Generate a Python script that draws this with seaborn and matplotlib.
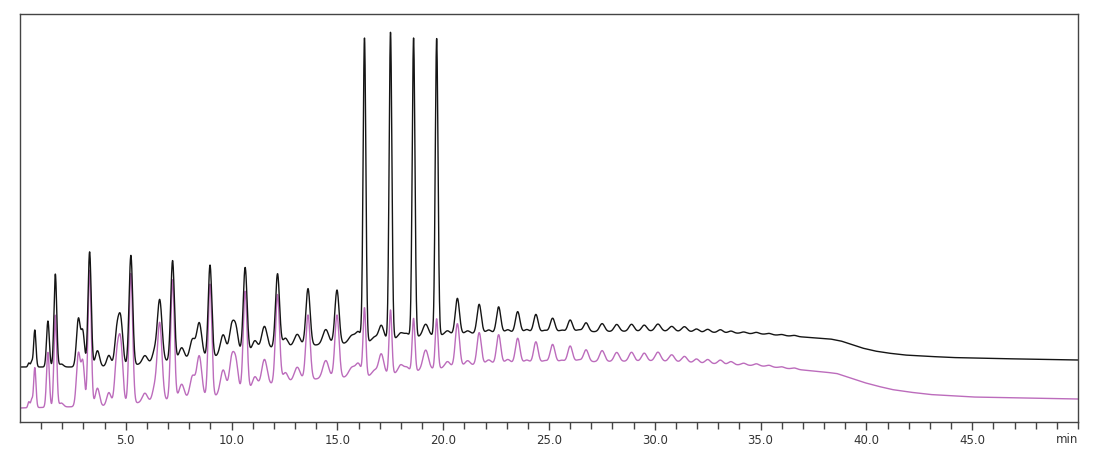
import numpy as np
import pandas as pd
import matplotlib
matplotlib.use("Agg")
import matplotlib.pyplot as plt
import seaborn as sns

# Peak table (retention time in min)
peak_times = [
    0.42, 0.55, 0.70, 1.32, 1.67, 1.95, 2.76, 2.97, 3.29, 3.66,
    4.20, 4.58, 4.76, 5.24, 5.90, 6.35, 6.60, 7.21, 7.64, 8.15,
    8.47, 8.98, 9.60, 10.00, 10.20, 10.64, 11.10, 11.55, 12.17, 12.54,
    13.10, 13.61, 14.45, 14.98, 15.70, 16.00, 16.28, 16.75, 17.07, 17.51,
    17.99, 18.27, 18.60, 19.17, 19.69, 20.20, 20.67, 21.15, 21.70, 22.15,
    22.62, 23.05, 23.52, 23.95, 24.38, 24.80, 25.17, 25.60, 26.00, 26.40,
    26.75, 27.51, 28.20, 28.90, 29.50, 30.15, 30.80, 31.40, 31.97, 32.50,
    33.10, 33.60, 34.20, 34.80, 35.40, 36.00, 36.60,
]
black_heights = [
    4, 5, 37, 46, 93, 3, 48, 34, 115, 16,
    11, 34, 44, 110, 8, 10, 62, 100, 12, 19,
    35, 92, 21, 27, 25, 85, 10, 23, 74, 9,
    12, 57, 15, 54, 8, 10, 304, 4, 15, 307,
    5, 4, 299, 12, 297, 4, 36, 3, 29, 3,
    26, 3, 21, 3, 18, 2, 14, 2, 12, 2,
    9, 8, 7, 7, 6, 7, 5, 5, 3, 3,
    3, 2, 1.5, 1.5, 1.2, 1.0, 1.0,
]
purple_heights = [
    6, 8, 40, 55, 92, 4, 53, 43, 136, 18,
    13, 46, 58, 130, 9, 12, 78, 120, 15, 22,
    42, 113, 25, 33, 30, 100, 12, 27, 89, 10,
    14, 65, 18, 63, 10, 12, 68, 5, 21, 64,
    8, 5, 53, 20, 50, 6, 43, 5, 32, 4,
    29, 4, 25, 3, 21, 2, 18, 2, 16, 2,
    12, 11, 9, 9, 8, 9, 7, 6, 4, 4,
    4, 3, 2, 2, 1.5, 1.2, 1.2,
]
peak_widths = [
    0.045, 0.045, 0.055, 0.065, 0.065, 0.10, 0.09, 0.08, 0.075, 0.10,
    0.10, 0.10, 0.10, 0.085, 0.12, 0.10, 0.11, 0.085, 0.12, 0.12,
    0.12, 0.085, 0.13, 0.11, 0.11, 0.09, 0.12, 0.13, 0.095, 0.12,
    0.14, 0.10, 0.14, 0.10, 0.16, 0.12, 0.065, 0.12, 0.12, 0.065,
    0.12, 0.12, 0.065, 0.13, 0.065, 0.12, 0.10, 0.12, 0.10, 0.12,
    0.10, 0.12, 0.105, 0.12, 0.105, 0.12, 0.11, 0.12, 0.11, 0.12,
    0.115, 0.12, 0.12, 0.12, 0.12, 0.13, 0.13, 0.13, 0.12, 0.12,
    0.12, 0.12, 0.12, 0.12, 0.12, 0.12, 0.12,
]

# Baseline drift of each trace
black_base_t = [0, 3, 5, 6.5, 8, 10, 11, 12, 14, 16, 18, 20, 22, 26, 30, 32, 35, 37,
                38.3, 38.8, 39.3, 39.8, 40.4, 41.0, 41.8, 42.6, 44, 46, 50]
black_base_y = [55, 55, 56, 60, 63, 67, 71, 74, 77, 79, 84, 87, 89, 90, 91, 90, 88, 85,
                83, 81, 77.5, 74, 71, 69, 67, 66, 64.5, 63.5, 62]
purple_base_t = [0, 2, 4, 5.5, 7, 8.7, 10.5, 12, 14, 16, 18, 20, 22, 26, 30, 32, 35,
                 38, 38.6, 39.1, 39.8, 40.5, 41.2, 42, 43, 45, 50]
purple_base_y = [14, 15, 16, 19, 22, 24, 30, 38, 43, 45, 49, 54, 58, 60, 61, 59, 56,
                 50, 48.5, 45, 40, 36, 32.5, 30, 27.5, 25, 23]

major_ticks = [5, 10, 15, 20, 25, 30, 35, 40, 45]


def trace(t, heights, base_t, base_y):
    y = np.interp(t, base_t, base_y)
    for t0, h, s in zip(peak_times, heights, peak_widths):
        y = y + h * np.exp(-0.5 * ((t - t0) / s) ** 2)
    return y


t = np.linspace(0, 50, 6001)
df = pd.concat([
    pd.DataFrame({'time': t, 'signal': trace(t, purple_heights, purple_base_t, purple_base_y), 'run': 'b'}),
    pd.DataFrame({'time': t, 'signal': trace(t, black_heights, black_base_t, black_base_y), 'run': 'a'}),
])

sns.set_style("white")
plt.rcParams['font.family'] = ['DejaVu Sans']

fig = plt.figure(figsize=(10.96, 4.57), dpi=100)
ax = fig.add_axes([20 / 1096, 1 - 422 / 457, 1058 / 1096, 408 / 457])

sns.lineplot(data=df, x='time', y='signal', hue='run', hue_order=['b', 'a'],
             palette={'a': '#151515', 'b': '#bc6cbc'}, estimator=None,
             linewidth=1.0, legend=False, ax=ax, sort=False)

ax.set_xlim(0, 50)
ax.set_ylim(0, 408)
ax.set_xlabel('')
ax.set_ylabel('')
ax.set_yticks([])
ax.set_xticks(major_ticks)
ax.set_xticklabels([f'{v:.1f}' for v in major_ticks])
ax.set_xticks([v for v in range(1, 51) if v % 5 != 0 or v == 50], minor=True)
ax.tick_params(axis='x', which='major', direction='out', length=6, width=1,
               color='#444444', labelsize=8.5, labelcolor='#333333', pad=3)
ax.tick_params(axis='x', which='minor', direction='out', length=5, width=1, color='#444444')
ax.tick_params(axis='x', which='both', bottom=True)
for sp in ax.spines.values():
    sp.set_color('#444444')
    sp.set_linewidth(1.0)
ax.text(50, -11, 'min', ha='right', va='top', fontsize=8.5, color='#333333')

fig.savefig('out.png', dpi=100)
plt.close(fig)
